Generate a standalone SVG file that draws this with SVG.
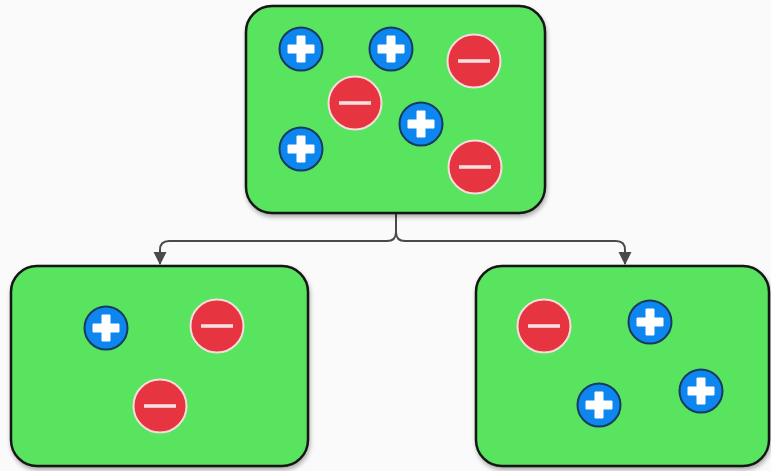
<svg xmlns="http://www.w3.org/2000/svg" width="771" height="471" viewBox="0 0 771 471">
<defs>
<filter id="sh" x="-10%" y="-10%" width="120%" height="130%">
<feDropShadow dx="1" dy="3" stdDeviation="2" flood-color="#000" flood-opacity="0.3"/>
</filter>
<marker id="arr" markerWidth="14" markerHeight="14" refX="12" refY="7" orient="auto" markerUnits="userSpaceOnUse" viewBox="0 0 14 14">
<path d="M0,0.5 L13,7 L0,13.5 Z" fill="#4a4a4a"/>
</marker>
<g id="plus">
<circle r="21.5" fill="#0b86ef" stroke="#173a5c" stroke-width="2"/>
<path d="M-4,-13 h8 v9 h9 v8 h-9 v9 h-8 v-9 h-9 v-8 h9 z" fill="#fff" stroke="#fff" stroke-width="1" stroke-linejoin="round"/>
</g>
<g id="minus">
<circle r="26.5" fill="#e63441" stroke="#f6dcdc" stroke-width="2"/>
<rect x="-16" y="-1.8" width="32" height="3.6" fill="#f4dede"/>
</g>
</defs>
<style>
.box{fill:#59e45f;stroke:#161616;stroke-width:2.5}
.conn{fill:none;stroke:#4a4a4a;stroke-width:2}
</style>
<rect width="771" height="471" fill="#fafafa"/>
<g id="connectors">
<path class="conn" d="M396,214 V232 Q396,241 387,241 H169 Q160,241 160,250 V264" marker-end="url(#arr)"/>
<path class="conn" d="M396,214 V232 Q396,241 405,241 H616 Q625,241 625,250 V264" marker-end="url(#arr)"/>
</g>
<g id="top" filter="url(#sh)">
<rect class="box" x="246" y="6" width="299" height="207" rx="26"/>
<use href="#plus" x="301" y="49"/>
<use href="#plus" x="391" y="49"/>
<use href="#minus" x="474" y="61"/>
<use href="#minus" x="355" y="103"/>
<use href="#plus" x="421" y="124"/>
<use href="#plus" x="301" y="149"/>
<use href="#minus" x="475" y="167"/>
</g>
<g id="left" filter="url(#sh)">
<rect class="box" x="11" y="266" width="297" height="200" rx="26"/>
<use href="#plus" x="106" y="328"/>
<use href="#minus" x="217" y="326"/>
<use href="#minus" x="160" y="406"/>
</g>
<g id="right" filter="url(#sh)">
<rect class="box" x="476" y="266" width="293" height="200" rx="26"/>
<use href="#minus" x="544" y="326"/>
<use href="#plus" x="650" y="322"/>
<use href="#plus" x="599" y="405"/>
<use href="#plus" x="701" y="391"/>
</g>
</svg>
